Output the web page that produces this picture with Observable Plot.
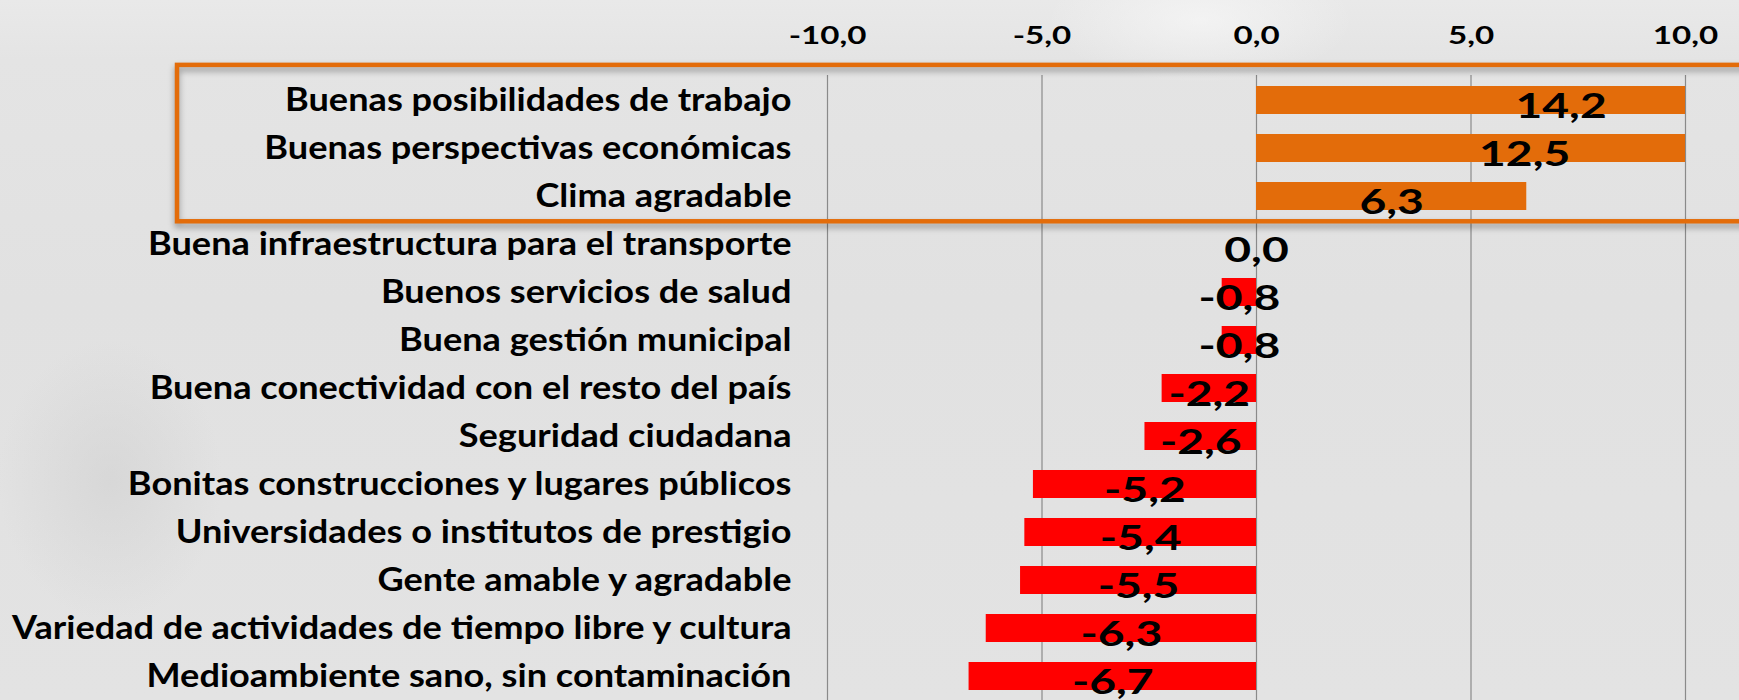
<!DOCTYPE html>
<html>
<head>
<meta charset="utf-8">
<script src="https://cdn.jsdelivr.net/npm/d3@7"></script>
<script src="https://cdn.jsdelivr.net/npm/@observablehq/plot@0.6"></script>
<style>
  html, body { margin: 0; padding: 0; }
  body {
    width: 1739px; height: 700px; overflow: hidden;
    background:
      radial-gradient(ellipse 160px 200px at 110px 480px, rgba(205,205,205,0.5), rgba(205,205,205,0) 70%),
      radial-gradient(ellipse 220px 90px at 1200px 20px, rgba(250,250,250,0.6), rgba(250,250,250,0) 70%),
      linear-gradient(180deg, #e9e9e9 0px, #e4e4e4 60px, #e1e1e1 300px, #e3e3e3 700px);
  }
  #chart svg { display: block; }
</style>
</head>
<body>
<div id="chart"></div>
<script>
// ---- data ----
const categories = [
  "Buenas posibilidades de trabajo",
  "Buenas perspectivas económicas",
  "Clima agradable",
  "Buena infraestructura para el transporte",
  "Buenos servicios de salud",
  "Buena gestión municipal",
  "Buena conectividad con el resto del país",
  "Seguridad ciudadana",
  "Bonitas construcciones y lugares públicos",
  "Universidades o institutos de prestigio",
  "Gente amable y agradable",
  "Variedad de actividades de tiempo libre y cultura",
  "Medioambiente sano, sin contaminación"
];
const values = [14.2, 12.5, 6.3, 0.0, -0.8, -0.8, -2.2, -2.6, -5.2, -5.4, -5.5, -6.3, -6.7];
const highlighted = [
  "Buenas posibilidades de trabajo",
  "Buenas perspectivas económicas",
  "Clima agradable"
];
const tickValues = [-10, -5, 0, 5, 10];
const xDomain = [-10, 10];

const fmt = d => d.toFixed(1).replace(".", ",");
const data = categories.map((c, i) => ({
  category: c,
  value: values[i],
  group: highlighted.includes(c) ? "destacado" : "resto"
}));

const ORANGE = "#E36C0A";
const RED = "#FF0000";
const FONT = "Lato, 'Open Sans', sans-serif";

const chart = Plot.plot({
  width: 1739,
  height: 700,
  marginTop: 75,
  marginBottom: 0,
  marginLeft: 827,
  marginRight: 54,
  style: { background: "transparent", fontFamily: FONT, color: "#000" },
  x: { domain: xDomain, label: null },
  y: { domain: categories, paddingInner: 0.42, paddingOuter: 0.21, label: null },
  color: { domain: ["destacado", "resto"], range: [ORANGE, RED] },
  marks: [
    Plot.gridX(tickValues, { stroke: "#8a8a8a", strokeOpacity: 1, strokeWidth: 1.2 }),
    Plot.barX(data, { x: "value", y: "category", fill: "group", clip: true }),
    Plot.axisX(tickValues, {
      anchor: "top", tickSize: 0, tickPadding: 32, tickFormat: fmt,
      fontSize: 24, fontWeight: "bold", fill: "#000", label: null
    }),
    Plot.axisY({
      tickSize: 0, tickPadding: 36, fontSize: 32, fontWeight: "bold",
      fill: "#000", label: null
    }),
    Plot.text(data, {
      x: d => d.value / 2, y: "category", text: d => fmt(d.value),
      fontSize: 34, fontWeight: "bold", fill: "#000", dy: 7
    })
  ]
});

document.getElementById("chart").appendChild(chart);

// horizontal stretch of the text (the original typeface is wide)
function stretch(selection, s) {
  selection.each(function () {
    const t = d3.select(this);
    const x = +t.attr("x") || 0;
    const prev = t.attr("transform") || "";
    t.attr("transform", `${prev} translate(${x},0) scale(${s},1) translate(${-x},0)`);
  });
}
const svg = d3.select(chart);
stretch(svg.selectAll('g[aria-label="y-axis tick label"] text'), 1.13);
stretch(svg.selectAll('g[aria-label="x-axis tick label"] text'), 1.38);
stretch(svg.selectAll('g[aria-label="text"] text'), 1.36);

// highlight box around the highlighted categories (derived from the y scale)
const yScale = chart.scale("y");
const bandTop = yScale.apply(highlighted[0]);
const bandBottom = yScale.apply(highlighted[highlighted.length - 1]) + yScale.bandwidth;
const boxTop = bandTop - 0.44 * yScale.step;
const boxBottom = bandBottom + 0.235 * yScale.step;
svg.append("rect")
  .attr("x", 177)
  .attr("y", boxTop)
  .attr("width", 1739)
  .attr("height", boxBottom - boxTop)
  .attr("fill", "none")
  .attr("stroke", ORANGE)
  .attr("stroke-width", 4.5)
  .style("filter", "drop-shadow(0px 4px 3px rgba(0,0,0,0.35))");
</script>
</body>
</html>
